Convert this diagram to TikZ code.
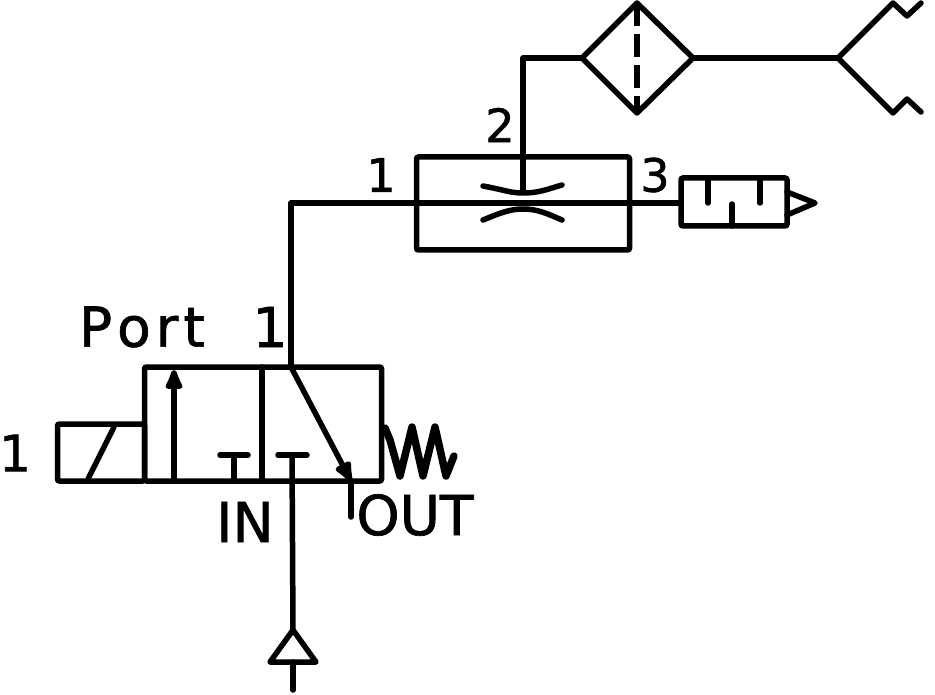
\documentclass[tikz,border=0pt]{standalone}
\usepackage{fontspec}
\setmainfont{DejaVu Sans}
\newfontfamily\labelfont[FakeBold=1.2]{DejaVu Sans}
\usetikzlibrary{arrows.meta,positioning}
\tikzset{
  line/.style    = {line width=5.5pt, line join=round, line cap=round},
  part/.style    = {draw, rectangle, line width=5.5pt, rounded corners=2pt,
                   inner sep=0pt, outer sep=0pt},
  valve/.style   = {part, minimum width=237pt, minimum height=114pt},
  coil/.style    = {part, minimum width=87pt, minimum height=57pt},
  block/.style   = {part, minimum width=213pt, minimum height=93pt},
  muffler/.style = {part, minimum width=106pt, minimum height=48pt},
  port/.style    = {inner sep=0pt, font=\labelfont\fontsize{46}{46}\selectfont},
  tag/.style     = {inner sep=0pt, font=\labelfont\fontsize{55}{55}\selectfont},
  arrowup/.style = {-{Latex[length=27pt,width=21pt,round]}}
}
\begin{document}
\begin{tikzpicture}[x=1pt,y=-1pt]
	\useasboundingbox (0,0) rectangle (935,695);

	% the valve with its coil
	\node[valve] (v) at (263,424) {};
	\node[coil, left=0pt of v.south west, anchor=south east] (c) {};
	\coordinate (vm) at (262,367);
	\coordinate (vn) at (262,481);
	\draw[line] (vm) -- (vn);
	\draw[line] (88,479) -- (114,427);

	% inner paths of the valve
	\coordinate (a1) at (174,481);
	\coordinate (a2) at (174,370);
	\draw[line, arrowup] (a1) -- (a2);
	\coordinate (t1) at (234,455);
	\draw[line] (t1) -- (234,481);
	\draw[line] (220,455) -- (248,455);
	\coordinate (t2) at (292,455);
	\draw[line] (278,455) -- (307,455);
	\coordinate (p1) at (291,367);
	\coordinate (p2) at (351,481);
	\draw[line, arrowup] (p1) -- (p2);
	\coordinate (out) at (351,517);
	\draw[line] (p2) -- (out);

	% spring
	\draw[line width=7.5pt, line join=round, line cap=round] (385,428)
		-- (390,440) -- (400,476) -- (412,427) -- (423,476) -- (435,427)
		-- (446,476) -- (454,456);

	% supply with its triangle
	\coordinate (sa) at (293,630);
	\coordinate (sl) at (270,662);
	\coordinate (sr) at (316,662);
	\coordinate (sb) at (293,690);
	\draw[line] (t2) -- (sa);
	\draw[line] (sa) -- (sl) -- (sr) -- cycle;
	\draw[line] (293,662) -- (sb);

	% block with two restrictions
	\node[block] (b) at (523,203.5) {};
	\coordinate (jn) at (291,203);
	\node[muffler] (m) at (734,202) {};
	\draw[line] (p1) -- (jn) -- (m.west |- jn);
	\coordinate (up) at (523,58);
	\coordinate (bc) at (523,190);
	\coordinate (fl) at (582,58);
	\draw[line] (bc) -- (up) -- (fl);
	\draw[line] (483,186) .. controls (505,190) and (510,193) .. (523,193)
		.. controls (538,193) and (545,190) .. (562,185);
	\draw[line] (483,220) .. controls (500,213) and (510,209) .. (523,209)
		.. controls (538,209) and (548,214) .. (562,220);

	% muffler inside
	\draw[line] (708,178) -- (708,203);
	\draw[line] (760,178) -- (760,203);
	\draw[line] (732,204) -- (732,226);
	\draw[line] (m.east |- 0,192) -- (815,203) -- (m.east |- 0,215);

	% filter
	\coordinate (ft) at (637,3);
	\coordinate (fr) at (693,58);
	\coordinate (fb) at (637,113);
	\draw[line] (fl) -- (ft) -- (fr) -- (fb) -- cycle;
	\draw[line width=5.5pt, dash pattern=on 23pt off 8pt] (ft) -- (fb);

	% outlet fork
	\coordinate (fk) at (838,58);
	\draw[line] (fr) -- (fk);
	\draw[line] (fk) -- (893,3) -- (907,16) -- (921,3);
	\draw[line] (fk) -- (893,113) -- (907,99) -- (921,112);

	% labels
	\node[tag] (lport) at (142,327) {P\kern5pt o\kern5pt r\kern5pt t};
	\node[tag] (l1) at (270,327) {1};
	\node[port] (l2) at (500,125) {2};
	\node[port] (l3) at (381,175) {1};
	\node[port] (l4) at (655,175) {3};
	\node[tag, font=\labelfont\fontsize{50}{50}\selectfont] (l5) at (15,453) {1};
	\node[tag] (lin) at (245,522) {IN};
	\node[tag] (lout) at (415,515) {OUT};
\end{tikzpicture}
\end{document}
